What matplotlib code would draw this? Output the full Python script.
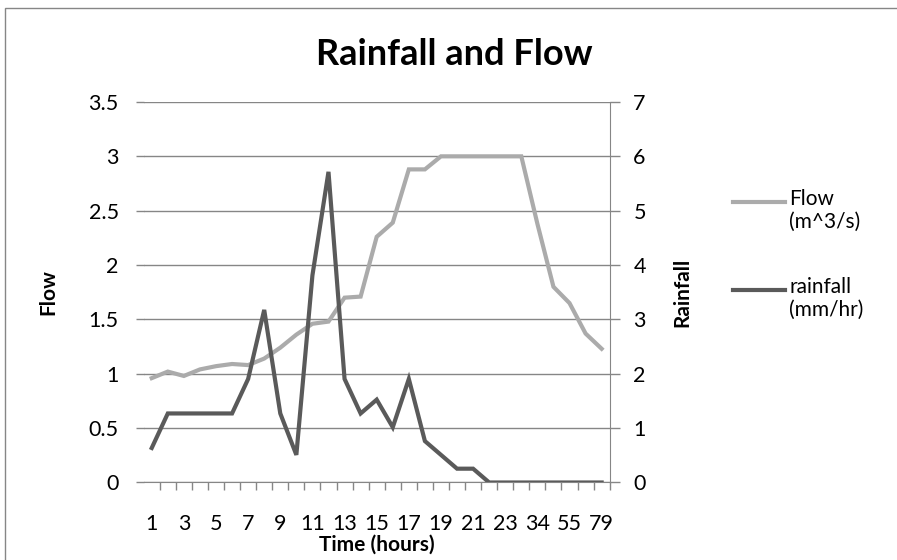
import matplotlib.pyplot as plt
import numpy as np
from matplotlib.lines import Line2D
from matplotlib.patches import Rectangle

plt.rcParams['font.family'] = ['Lato', 'DejaVu Sans']

# time categories (only every other label is shown on the axis)
hours = ["1", "2", "3", "4", "5", "6", "7", "8", "9", "10", "11", "12",
         "13", "14", "15", "16", "17", "18", "19", "20", "21", "22", "23",
         "24", "34", "45", "55", "67", "79"]
flow = [0.96, 1.02, 0.98, 1.04, 1.07, 1.09, 1.08, 1.14, 1.24, 1.36, 1.46, 1.48,
        1.70, 1.71, 2.26, 2.39, 2.88, 2.88, 3.0, 3.0, 3.0, 3.0, 3.0,
        3.0, 2.38, 1.80, 1.65, 1.37, 1.23]
rainfall = [0.635, 1.27, 1.27, 1.27, 1.27, 1.27, 1.905, 3.175, 1.27, 0.508, 3.81, 5.715,
            1.905, 1.27, 1.524, 1.016, 1.905, 0.762, 0.508, 0.254, 0.254, 0.0, 0.0,
            0.0, 0.0, 0.0, 0.0, 0.0, 0.0]

light = "#ababab"
dark = "#5a5a5a"
grid = "#868686"

fig = plt.figure(figsize=(8.97, 5.6), dpi=100)
ax = fig.add_axes([0.1602, 0.1384, 0.5195, 0.6795])
ax2 = ax.twinx()

x = np.arange(len(hours))
ax.plot(x, flow, color=light, lw=3, solid_joinstyle="miter", zorder=3)
ax2.plot(x, rainfall, color=dark, lw=3, solid_joinstyle="miter", zorder=3)

ax.set_xlim(-0.5, len(hours) - 0.5)
ax.set_ylim(0, 3.5)
ax2.set_ylim(0, 7)
ax.set_yticks(np.arange(0, 3.51, 0.5))
ax.set_yticklabels(["0", "0.5", "1", "1.5", "2", "2.5", "3", "3.5"])
ax2.set_yticks(np.arange(0, 8))

ax.set_xticks(x[::2])
ax.set_xticklabels(hours[::2])
ax.set_xticks(np.arange(0.5, len(hours), 1), minor=True)
ax.tick_params(axis="x", which="major", length=0, pad=23, labelsize=15.5)
ax.tick_params(axis="x", which="minor", length=6, color=grid, width=1)
ax.tick_params(axis="y", length=6, color=grid, width=1, pad=12, labelsize=15.5)
ax2.tick_params(axis="y", length=7, color=grid, width=1, pad=10, labelsize=15.5)

ax.yaxis.grid(True, color=grid, lw=1)
ax.set_axisbelow(True)
for s in ["top", "left"]:
    ax.spines[s].set_visible(False)
    ax2.spines[s].set_visible(False)
ax.spines["bottom"].set_color(grid)
ax2.spines["bottom"].set_visible(False)
ax.spines["right"].set_visible(False)
ax2.spines["right"].set_color(grid)

ax.set_ylabel("Flow", fontsize=15, fontweight="bold", labelpad=22)
ax2.set_ylabel("Rainfall", fontsize=15, fontweight="bold", labelpad=19)
ax.set_xlabel("Time (hours)", fontsize=15, fontweight="bold", labelpad=0)

fig.text(0.507, 0.903, "Rainfall and Flow", ha="center", va="center",
         fontsize=26, fontweight="bold")

# legend
for yl, lab, col in [(202, "Flow\n(m^3/s)", light), (290, "rainfall\n(mm/hr)", dark)]:
    yf = 1 - yl / 560
    fig.add_artist(Line2D([733 / 897, 785 / 897], [yf, yf], color=col, lw=3))
    fig.text(789 / 897, yf + 0.024, lab, ha="left", va="top", fontsize=15,
             linespacing=1.2)

# chart border
fig.add_artist(Rectangle((5 / 897, -0.1), 1.2, 1.1 - 8 / 560, fill=False,
                         edgecolor=grid, lw=1, transform=fig.transFigure))

fig.savefig("out.png", dpi=100)
